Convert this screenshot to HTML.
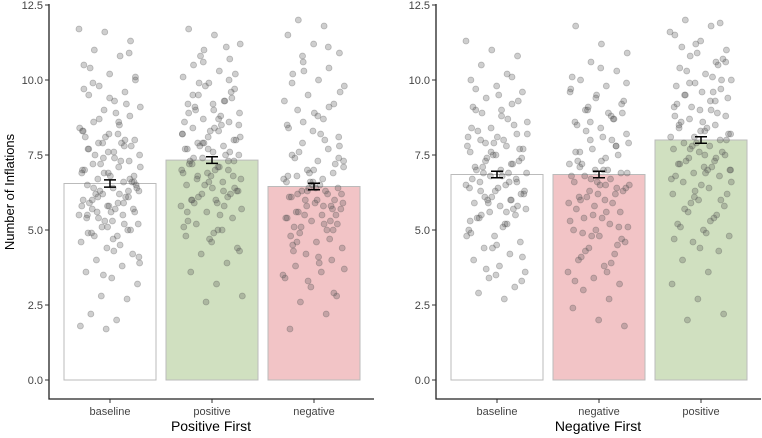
<!DOCTYPE html>
<html><head><meta charset="utf-8"><style>
body{margin:0;background:#fff;}
svg{display:block;font-family:"Liberation Sans",sans-serif;}
</style></head><body>
<svg id="c" width="762" height="438"></svg>
<script>
const categoriesLeft=["baseline","positive","negative"];
const categoriesRight=["baseline","negative","positive"];
const meansLeft=[6.55,7.33,6.45];
const meansRight=[6.85,6.85,8.0];
const seLeft=[0.12,0.11,0.11];
const seRight=[0.11,0.11,0.11];
const yTicks=[0,2.5,5,7.5,10,12.5];
const yTickLabels=["0.0","2.5","5.0","7.5","10.0","12.5"];
const ptsL0=[11.7,11.6,11.3,11.0,10.8,10.5,10.2,10.0,9.8,9.6,9.5,9.3,9.1,9.0,8.8,8.6,8.5,8.3,8.2,8.0,7.9,7.8,7.7,7.6,7.5,7.4,7.3,7.2,7.1,7.0,6.9,6.8,6.7,6.6,6.5,6.4,6.3,6.2,6.1,6.0,5.9,5.8,5.8,5.7,5.6,5.5,5.4,5.3,5.2,5.1,5.0,4.9,4.8,4.6,4.4,4.2,4.0,3.8,3.6,3.4,3.2,2.8,2.7,2.2,2.0,1.8,1.7,6.6,6.2,7.9,8.1,5.6,6.4,7.2,9.2,10.4,
 8.9,8.4,8.1,7.8,7.5,7.3,7.0,6.8,6.5,6.3,6.1,5.9,5.7,5.5,5.3,5.0,4.8,4.5,9.7,9.4,10.1,8.7,8.0,7.7,7.4,7.1,6.9,6.7,6.4,6.2,6.0,5.8,5.6,5.4,5.2,4.9,4.3,3.9,3.5,10.9,9.9,8.6,8.3,7.6,6.6,6.1,5.9,5.5,4.7,4.1,7.9,6.3,5.7,8.2,6.9,5.1];
const ptsL1=[11.7,11.5,11.2,11.0,10.7,10.5,10.3,10.1,9.9,9.7,9.5,9.3,9.2,9.0,8.9,8.7,8.6,8.4,8.3,8.2,8.1,8.0,7.9,7.8,7.7,7.6,7.5,7.4,7.3,7.2,7.1,7.0,6.9,6.8,6.7,6.6,6.5,6.4,6.3,6.2,6.1,6.0,5.9,5.8,5.6,5.4,5.2,5.0,4.8,4.6,4.4,4.2,3.9,3.6,3.2,2.8,2.6,9.4,9.0,8.5,7.7,6.8,6.3,10.8,11.1,7.3,6.0,5.7,
 9.8,9.6,9.1,8.8,8.6,8.3,8.0,7.8,7.5,7.2,7.0,6.7,6.5,6.2,5.9,5.5,5.1,4.7,10.2,9.9,9.3,8.9,8.4,8.1,7.9,7.6,7.4,7.1,6.9,6.6,6.4,6.1,5.8,5.3,4.9,4.3,10.6,10.0,9.5,8.7,8.2,7.7,7.3,6.8,6.3,5.6,9.2,8.5,7.9,7.0,6.0,5.0];
const ptsL2=[12.0,11.8,11.5,11.2,10.9,10.6,10.4,10.2,10.0,9.8,9.5,9.2,9.0,8.7,8.5,8.3,8.1,7.9,7.7,7.5,7.3,7.1,7.0,6.9,6.8,6.7,6.6,6.5,6.4,6.3,6.2,6.1,6.0,5.9,5.8,5.7,5.6,5.5,5.4,5.3,5.2,5.1,5.0,4.8,4.6,4.4,4.2,4.0,3.8,3.6,3.4,3.1,2.8,2.6,2.2,1.7,6.4,6.2,6.0,5.8,7.4,8.2,9.3,6.6,5.5,4.9,
 6.3,6.1,5.9,5.7,5.5,5.3,5.1,6.5,6.7,6.9,7.2,7.6,8.0,8.4,8.9,9.6,10.3,4.7,4.3,3.9,3.5,6.4,6.0,5.6,5.2,6.8,7.0,7.8,8.6,9.1,4.5,4.1,3.7,3.3,2.9,6.2,5.8,5.4,6.6,7.4,10.8,11.1,9.9,8.8,7.3,6.3,5.0,4.6];
const ptsR0=[11.3,11.0,10.8,10.5,10.2,10.0,9.8,9.6,9.4,9.2,9.0,8.8,8.6,8.4,8.2,8.0,7.8,7.6,7.5,7.4,7.3,7.2,7.1,7.0,6.9,6.8,6.7,6.6,6.5,6.4,6.3,6.2,6.1,6.0,5.9,5.8,5.7,5.6,5.5,5.4,5.2,5.0,4.8,4.6,4.4,4.2,4.0,3.8,3.6,3.4,3.1,2.9,2.7,8.1,7.9,7.7,6.9,6.6,9.1,9.5,6.3,5.9,8.5,
 8.3,8.0,7.8,7.5,7.3,7.1,6.9,6.7,6.4,6.2,6.0,5.7,5.4,5.1,4.8,4.4,9.3,8.9,8.7,8.4,8.1,7.7,7.4,7.2,7.0,6.8,6.5,6.1,5.8,5.5,5.2,4.9,4.5,4.1,3.7,10.1,9.7,9.0,8.2,7.6,6.6,6.3,5.6,5.3,3.5,3.3,7.9,6.0];
const ptsR1=[11.8,11.2,10.9,10.6,10.3,10.0,9.8,9.6,9.4,9.2,9.0,8.8,8.6,8.4,8.2,8.0,7.8,7.6,7.4,7.2,7.0,6.9,6.8,6.7,6.6,6.5,6.4,6.3,6.2,6.1,6.0,5.9,5.8,5.6,5.4,5.2,5.0,4.8,4.6,4.4,4.2,4.0,3.8,3.6,3.4,3.2,3.0,2.7,2.4,2.0,1.8,9.1,8.7,7.3,7.0,6.5,5.5,5.1,4.9,8.9,10.1,6.2,
 9.3,9.0,8.7,8.5,8.1,7.9,7.7,7.5,7.2,7.0,6.8,6.6,6.3,6.1,5.9,5.7,5.4,5.1,4.8,4.5,4.1,3.6,9.7,9.5,8.9,8.3,8.0,7.6,7.3,6.9,6.7,6.4,6.0,5.6,5.3,5.0,4.7,4.3,3.9,3.3,10.4,9.9,8.6,7.8,7.1,6.5];
const ptsR2=[12.0,11.8,11.5,11.3,11.0,10.8,10.6,10.4,10.2,10.0,9.9,9.7,9.5,9.3,9.1,9.0,8.8,8.7,8.5,8.4,8.3,8.2,8.1,8.0,7.9,7.8,7.7,7.6,7.5,7.4,7.3,7.2,7.1,7.0,6.9,6.8,6.6,6.4,6.2,6.0,5.8,5.6,5.4,5.2,5.0,4.8,4.6,4.3,4.0,3.6,3.2,2.7,2.2,2.0,9.6,9.2,8.6,8.2,7.8,10.5,11.1,7.0,6.7,
 10.9,10.7,10.3,10.1,9.8,9.6,9.4,9.1,8.9,8.6,8.4,8.1,7.9,7.6,7.3,7.1,6.8,6.5,6.2,5.9,5.5,5.1,4.9,11.6,11.2,10.0,9.5,9.0,8.8,8.3,8.0,7.7,7.4,7.2,6.9,6.6,6.3,6.0,5.7,5.3,4.7,4.4,10.6,9.9,9.3,8.5,7.5,7.0,6.1,11.9];
const ptsLeft=[ptsL0,ptsL1,ptsL2];
const ptsRight=[ptsR0,ptsR1,ptsR2];
const fills=["#ffffff","#d0e0c0","#f2c4c6"];
const fillsRight=["#ffffff","#f2c4c6","#d0e0c0"];

const NS="http://www.w3.org/2000/svg";
const svg=document.getElementById('c');
function mk(t,a,p){const e=document.createElementNS(NS,t);for(const k in a)e.setAttribute(k,a[k]);(p||svg).appendChild(e);return e;}
function y(v){return 380-v*30;}
function panel(ax,cats,means,se,pts,cols,title,key){
  const g=mk('g',{});
  
  
  function x(i){return ax+61+i*102;}
  cats.forEach((c,i)=>{
    const b=mk('rect',{x:x(i)-46,y:y(means[i]),width:92,height:y(0)-y(means[i]),fill:cols[i],stroke:'#bbbbbb','stroke-width':1},g);
    
    
  });
  cats.forEach((c,i)=>{
    pts[i].forEach((v,j)=>{
      const off=(((j*37+i*11)%89)/89-0.5)*62;
      const d=mk('circle',{cx:x(i)+off,cy:y(v),r:3,fill:'rgba(80,80,80,0.28)',stroke:'rgba(80,80,80,0.35)','stroke-width':0.8},g);
      
      
    });
  });
  cats.forEach((c,i)=>{
    const e=mk('path',{d:`M${x(i)-6},${y(means[i]+se[i])}H${x(i)+6}M${x(i)},${y(means[i]+se[i])}V${y(means[i]-se[i])}M${x(i)-6},${y(means[i]-se[i])}H${x(i)+6}`,stroke:'#000','stroke-width':1.5,fill:'none'},g);
    
    
    mk('line',{x1:x(i),x2:x(i),y1:399,y2:403,stroke:'#333'},g);
    const tl=mk('text',{x:x(i),y:415,'text-anchor':'middle','font-size':11,fill:'#444'},g);
    tl.textContent=c;
    
    
  });
  const axl=mk('path',{d:`M${ax},4V399H${ax+325}`,stroke:'#222','stroke-width':1.3,fill:'none'},g);
  
  
  yTicks.forEach((v,k)=>{
    mk('line',{x1:ax-4,x2:ax,y1:y(v),y2:y(v),stroke:'#333'},g);
    const t=mk('text',{x:ax-6,y:y(v)+4,'text-anchor':'end','font-size':11,fill:'#444'},g);
    t.textContent=yTickLabels[k];
    
    
  });
  const tt=mk('text',{x:ax+162,y:431,'text-anchor':'middle','font-size':14,fill:'#000'},g);
  tt.textContent=title;
  
  
}
panel(49,categoriesLeft,meansLeft,seLeft,ptsLeft,fills,"Positive First","left");
panel(436,categoriesRight,meansRight,seRight,ptsRight,fillsRight,"Negative First","right");
const yt=mk('text',{x:0,y:0,transform:'translate(14,192) rotate(-90)','text-anchor':'middle','font-size':13,fill:'#000'});
yt.textContent="Number of Inflations";


</script>
</body></html>
